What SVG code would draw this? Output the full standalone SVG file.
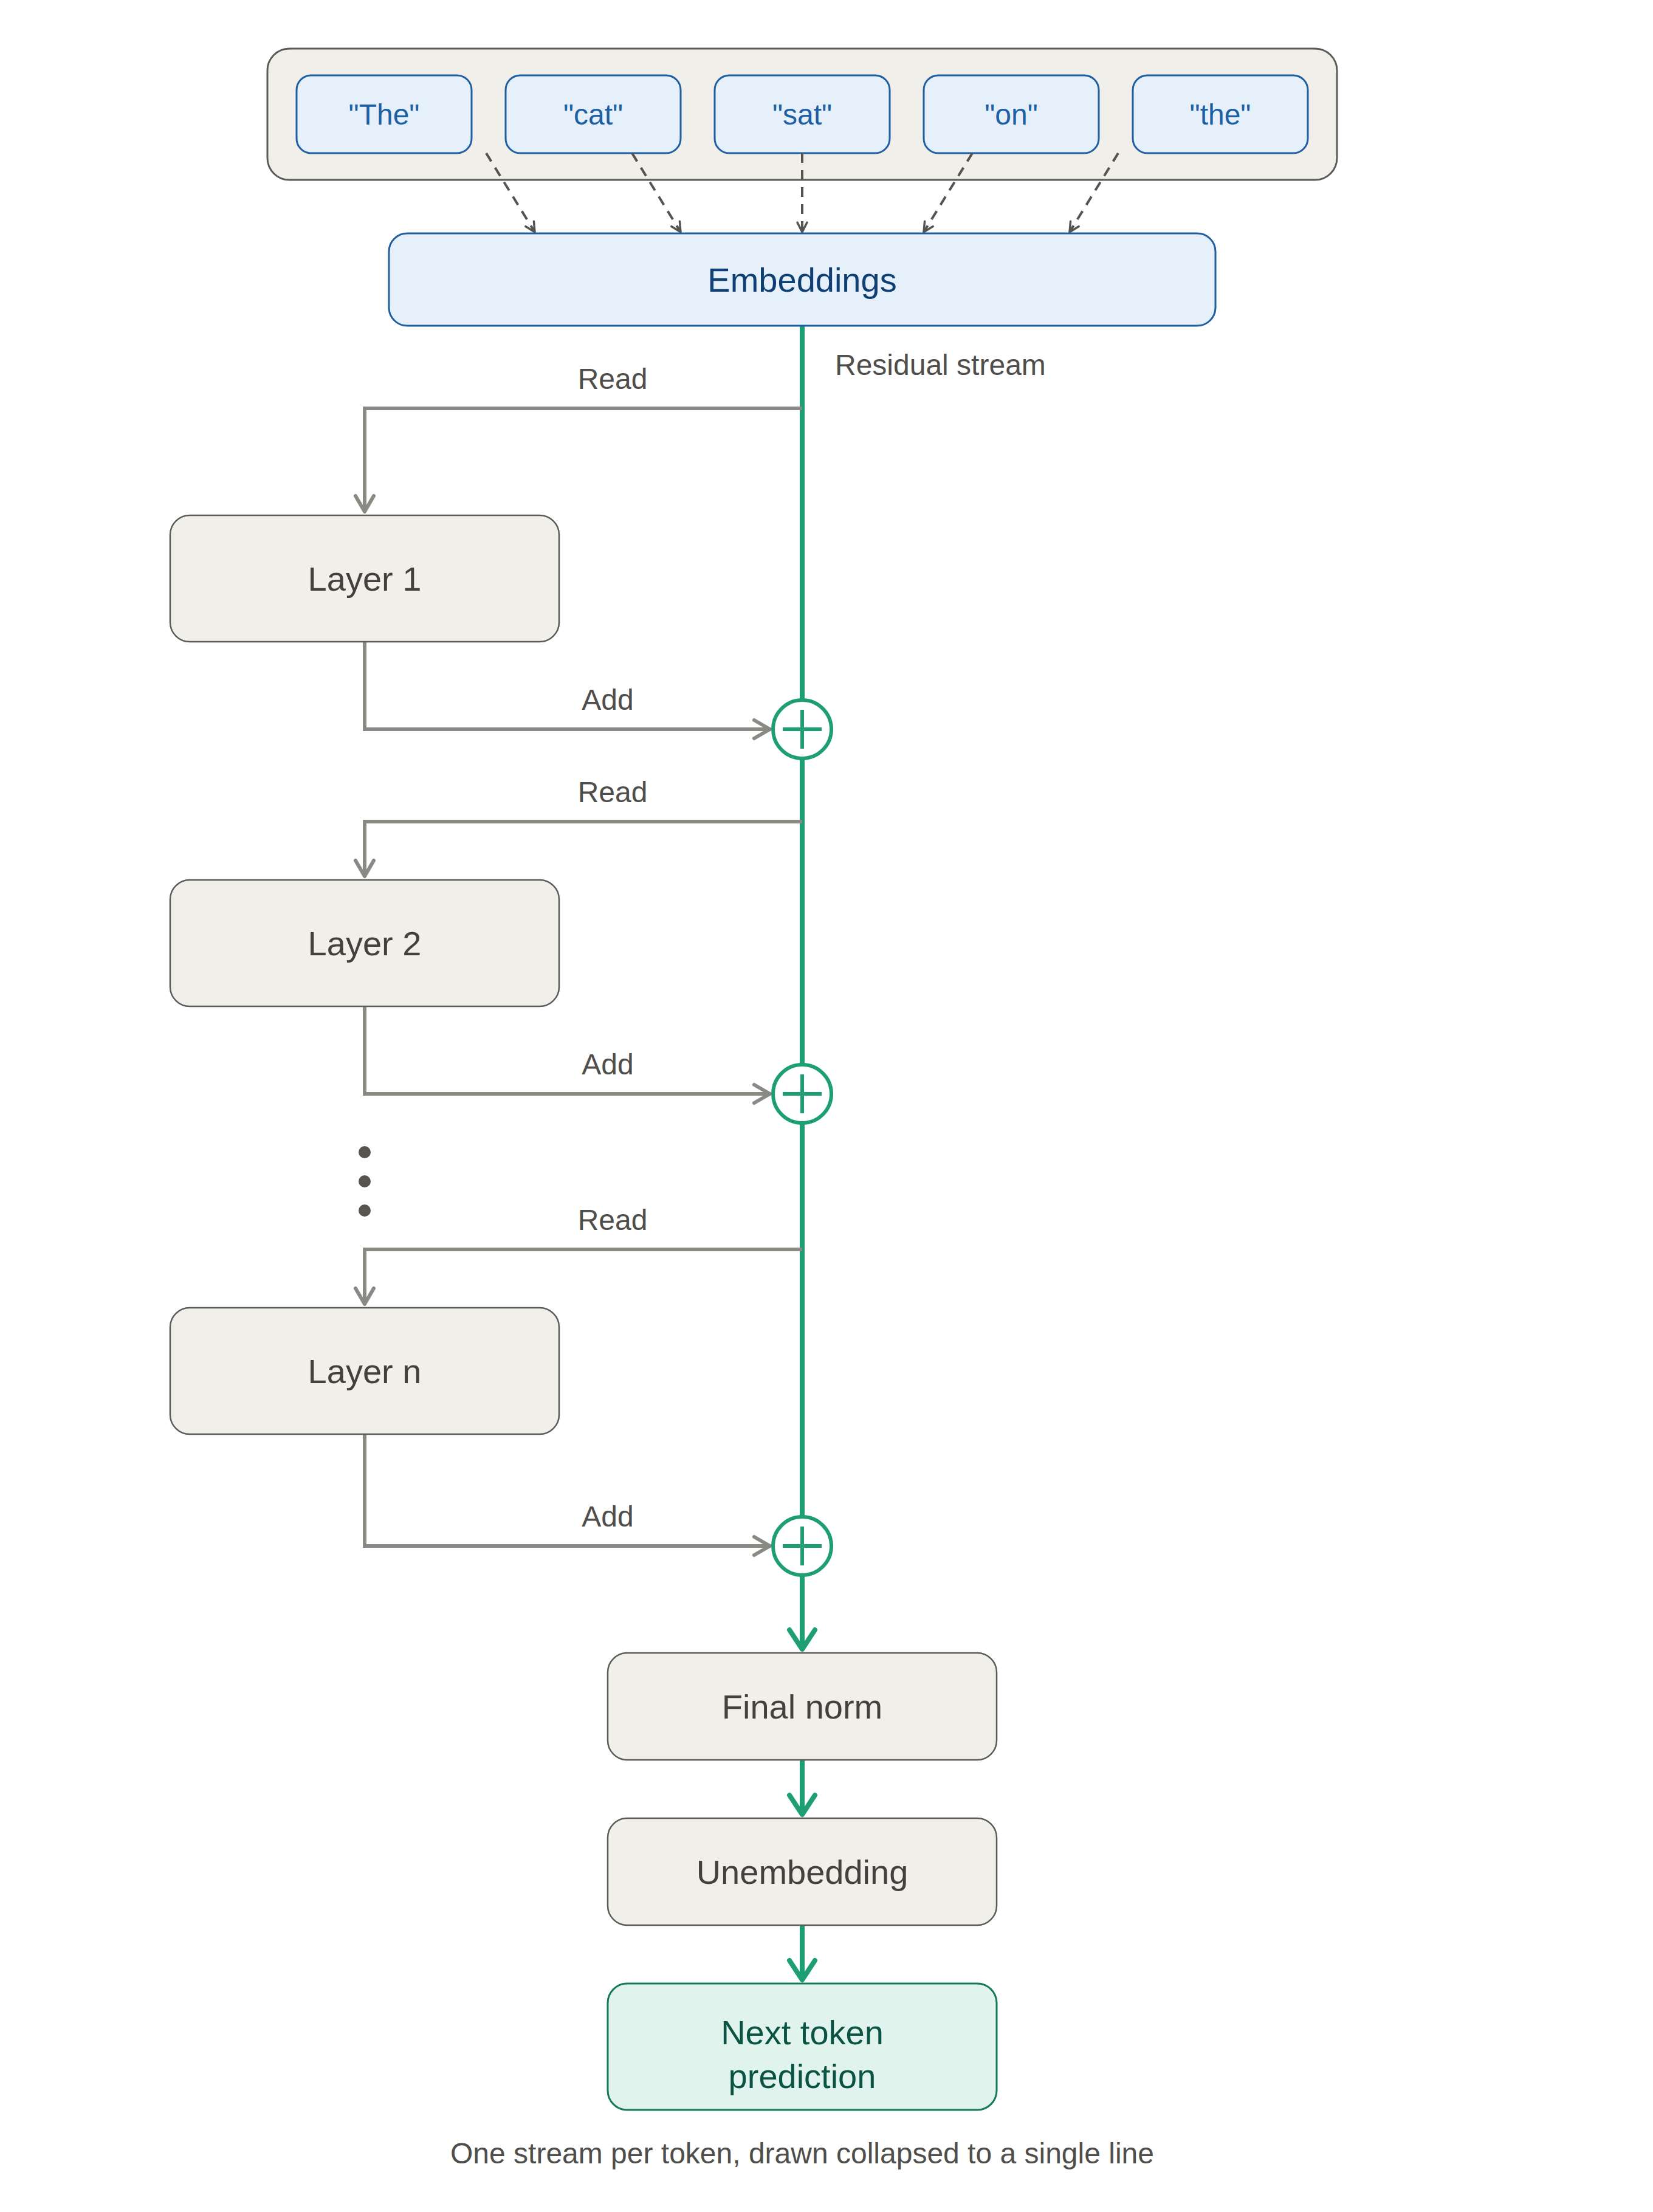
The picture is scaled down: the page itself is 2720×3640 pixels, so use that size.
<svg xmlns="http://www.w3.org/2000/svg" width="2720" height="3640" viewBox="0 0 2720 3640">
<defs>
<style>
text{font-family:"Liberation Sans",Arial,Helvetica,sans-serif}
.cont{fill:#f1efe9;stroke:#5c5b57;stroke-width:3}
.tok{fill:#e6f0fa;stroke:#1f5fa3;stroke-width:3}
.toktxt{font-size:48px;fill:#1d5fa3;text-anchor:middle}
.emb{fill:#e6f0fa;stroke:#1f5fa3;stroke-width:3}
.embtxt{font-size:56px;fill:#0f3f73;text-anchor:middle}
.node{fill:#f1efe9;stroke:#5c5b57;stroke-width:2.5}
.nodetxt{font-size:56px;fill:#42413d;text-anchor:middle}
.out{fill:#e0f3ec;stroke:#137a5c;stroke-width:3}
.outtxt{font-size:56px;fill:#0b5444;text-anchor:middle}
.lbl{font-size:48px;fill:#4f4e4a}
.mid{text-anchor:middle}
.dash{fill:none;stroke:#555450;stroke-width:4;stroke-dasharray:16 12}
.gray{fill:none;stroke:#8a8983;stroke-width:6}
.green{fill:none;stroke:#1e9e74;stroke-width:8}
.sum{fill:#ffffff;stroke:#1e9e74;stroke-width:6}
.plus{stroke:#1e9e74;stroke-width:6;fill:none}
.dot{fill:#55544f}
</style>
<marker id="mDash" markerUnits="userSpaceOnUse" viewBox="-20 -12 24 24" markerWidth="24" markerHeight="24" refX="0" refY="0" orient="auto">
<path d="M-16,-8 L0,0 L-16,8" fill="none" stroke="#555450" stroke-width="3.5" stroke-linecap="round" stroke-linejoin="round"/>
</marker>
<marker id="mGray" markerUnits="userSpaceOnUse" viewBox="-32 -20 40 40" markerWidth="40" markerHeight="40" refX="0" refY="0" orient="auto">
<path d="M-26,-15 L0,0 L-26,15" fill="none" stroke="#8a8983" stroke-width="6" stroke-linecap="round" stroke-linejoin="round"/>
</marker>
<marker id="mGreen" markerUnits="userSpaceOnUse" viewBox="-40 -26 50 52" markerWidth="50" markerHeight="52" refX="0" refY="0" orient="auto">
<path d="M-32,-21 L0,0 L-32,21" fill="none" stroke="#1e9e74" stroke-width="8" stroke-linecap="round" stroke-linejoin="round"/>
</marker>
</defs>
<rect width="2720" height="3640" fill="#ffffff"/>

<g id="tokens">
<rect class="cont" x="440" y="80" width="1760" height="216" rx="36"/>
<g id="tok-The"><rect class="tok" x="488" y="124" width="288" height="128" rx="24"/><text class="toktxt" x="632" y="205">"The"</text></g>
<g id="tok-cat"><rect class="tok" x="832" y="124" width="288" height="128" rx="24"/><text class="toktxt" x="976" y="205">"cat"</text></g>
<g id="tok-sat"><rect class="tok" x="1176" y="124" width="288" height="128" rx="24"/><text class="toktxt" x="1320" y="205">"sat"</text></g>
<g id="tok-on"><rect class="tok" x="1520" y="124" width="288" height="128" rx="24"/><text class="toktxt" x="1664" y="205">"on"</text></g>
<g id="tok-the"><rect class="tok" x="1864" y="124" width="288" height="128" rx="24"/><text class="toktxt" x="2008" y="205">"the"</text></g>
</g>

<g id="connectors">
<line class="dash" x1="800" y1="252" x2="880" y2="382" marker-end="url(#mDash)"/>
<line class="dash" x1="1040" y1="252" x2="1120" y2="382" marker-end="url(#mDash)"/>
<line class="dash" x1="1320" y1="252" x2="1320" y2="382" marker-end="url(#mDash)"/>
<line class="dash" x1="1600" y1="252" x2="1520" y2="382" marker-end="url(#mDash)"/>
<line class="dash" x1="1840" y1="252" x2="1760" y2="382" marker-end="url(#mDash)"/>

<line class="green" x1="1320" y1="536" x2="1320" y2="2714" marker-end="url(#mGreen)"/>
<line class="green" x1="1320" y1="2896" x2="1320" y2="2986" marker-end="url(#mGreen)"/>
<line class="green" x1="1320" y1="3168" x2="1320" y2="3258" marker-end="url(#mGreen)"/>

<path class="gray" d="M1320,672 H600 V842" marker-end="url(#mGray)"/>
<path class="gray" d="M600,1056 V1200 H1267" marker-end="url(#mGray)"/>
<path class="gray" d="M1320,1352 H600 V1442" marker-end="url(#mGray)"/>
<path class="gray" d="M600,1656 V1800 H1267" marker-end="url(#mGray)"/>
<path class="gray" d="M1320,2056 H600 V2146" marker-end="url(#mGray)"/>
<path class="gray" d="M600,2360 V2544 H1267" marker-end="url(#mGray)"/>

<text class="lbl mid" x="1008" y="640">Read</text>
<text class="lbl mid" x="1000" y="1168">Add</text>
<text class="lbl mid" x="1008" y="1320">Read</text>
<text class="lbl mid" x="1000" y="1768">Add</text>
<text class="lbl mid" x="1008" y="2024">Read</text>
<text class="lbl mid" x="1000" y="2512">Add</text>
<text class="lbl" x="1374" y="617">Residual stream</text>
</g>

<g id="embeddings"><rect class="emb" x="640" y="384" width="1360" height="152" rx="30"/><text class="embtxt" x="1320" y="480">Embeddings</text></g>

<g id="layer1"><rect class="node" x="280" y="848" width="640" height="208" rx="32"/><text class="nodetxt" x="600" y="972">Layer 1</text></g>
<g id="add1"><circle class="sum" cx="1320" cy="1200" r="48"/><path class="plus" d="M1288,1200 H1352 M1320,1168 V1232"/></g>
<g id="layer2"><rect class="node" x="280" y="1448" width="640" height="208" rx="32"/><text class="nodetxt" x="600" y="1572">Layer 2</text></g>
<g id="add2"><circle class="sum" cx="1320" cy="1800" r="48"/><path class="plus" d="M1288,1800 H1352 M1320,1768 V1832"/></g>
<g id="ellipsis"><circle class="dot" cx="600" cy="1896" r="10"/><circle class="dot" cx="600" cy="1944" r="10"/><circle class="dot" cx="600" cy="1992" r="10"/></g>
<g id="layern"><rect class="node" x="280" y="2152" width="640" height="208" rx="32"/><text class="nodetxt" x="600" y="2276">Layer n</text></g>
<g id="add3"><circle class="sum" cx="1320" cy="2544" r="48"/><path class="plus" d="M1288,2544 H1352 M1320,2512 V2576"/></g>

<g id="finalnorm"><rect class="node" x="1000" y="2720" width="640" height="176" rx="32"/><text class="nodetxt" x="1320" y="2828">Final norm</text></g>
<g id="unembedding"><rect class="node" x="1000" y="2992" width="640" height="176" rx="32"/><text class="nodetxt" x="1320" y="3100">Unembedding</text></g>
<g id="nexttoken"><rect class="out" x="1000" y="3264" width="640" height="208" rx="32"/><text class="outtxt" x="1320" y="3364">Next token</text><text class="outtxt" x="1320" y="3436">prediction</text></g>

<g id="caption"><text class="lbl mid" x="1320" y="3560">One stream per token, drawn collapsed to a single line</text></g>
</svg>
